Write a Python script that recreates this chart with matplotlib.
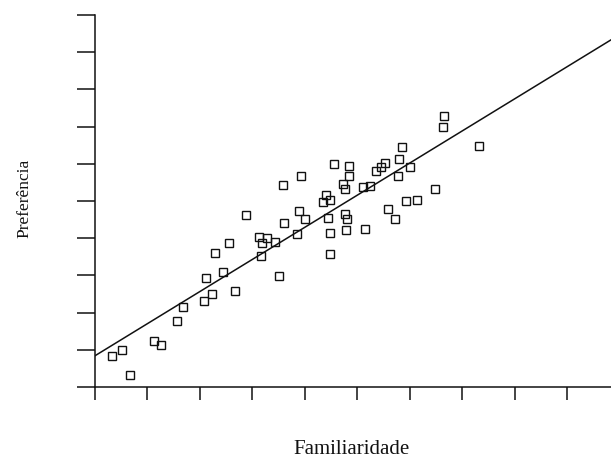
import matplotlib
matplotlib.use("Agg")
import matplotlib.pyplot as plt
import numpy as np

# Data (Familiaridade vs Preferência)
familiaridade = [0.318, 0.521, 0.673, 1.125, 1.253, 1.558, 1.684, 2.079, 2.235, 2.117,
                 2.279, 2.437, 2.561, 2.675, 2.889, 3.127, 3.166, 3.280, 3.179, 3.438,
                 3.514, 3.604, 3.589, 3.846, 3.884, 3.928, 4.008, 4.405, 4.481, 4.354,
                 4.443, 4.481, 4.481, 4.567, 4.838, 4.838, 4.723, 4.771, 4.767, 4.805,
                 4.790, 5.111, 5.248, 5.145, 5.364, 5.448, 5.534, 5.793, 6.011, 5.772,
                 5.578, 5.727, 5.925, 6.140, 6.487, 5.845, 6.661, 6.627, 7.315]
preferencia = [0.841, 0.995, 0.315, 1.228, 1.142, 1.769, 2.151, 2.320, 2.513, 2.922,
               3.610, 3.078, 3.884, 2.581, 4.624, 4.032, 3.527, 4.005, 3.879, 3.911,
               2.992, 4.409, 5.438, 4.108, 4.723, 5.677, 4.503, 5.169, 5.035, 4.965,
               4.556, 4.145, 3.581, 5.987, 5.935, 5.664, 5.470, 5.328, 4.651, 4.516,
               4.220, 5.382, 5.395, 4.247, 5.815, 5.922, 6.030, 6.124, 5.914, 5.680,
               4.785, 4.516, 5.000, 5.027, 5.323, 6.460, 7.280, 6.995, 6.470]

# Regression line as drawn in the reference
line_intercept = 0.84
line_slope = 0.863

x_ticks = list(range(0, 10))
y_ticks = list(range(0, 11))
x_max = 9.84
y_max = 10

plt.rcParams['font.family'] = ['Liberation Serif', 'DejaVu Serif']

fig = plt.figure(figsize=(6.11, 4.59), dpi=100)
ax = fig.add_axes([95/611, (459-387)/459, (611-95)/611, (387-15)/459])

xs = np.array([0, x_max])
ax.plot(xs, line_intercept + line_slope * xs, color='#111111', lw=1.1, zorder=2)
ax.plot(familiaridade, preferencia, linestyle='none', marker='s', markersize=5.2,
        markerfacecolor='none', markeredgecolor='#111111', markeredgewidth=1.0, zorder=3)

ax.set_xlim(0, x_max)
ax.set_ylim(0, y_max)
ax.set_xticks(x_ticks)
ax.set_yticks(y_ticks)
ax.set_xticklabels([])
ax.set_yticklabels([])
ax.tick_params(axis='y', direction='out', length=13, width=1.1, color='#111111')
ax.tick_params(axis='x', direction='out', length=9.4, width=1.1, color='#111111')
for s in ['top', 'right']:
    ax.spines[s].set_visible(False)
for s in ['left', 'bottom']:
    ax.spines[s].set_linewidth(1.1)
    ax.spines[s].set_color('#111111')

fig.text(351/611, (459-454)/459, 'Familiaridade', ha='center', va='baseline',
         fontsize=15, color='#111111')
fig.text(28/611, 1-198/459, 'Preferência', rotation=90, rotation_mode='anchor',
         ha='center', va='baseline', fontsize=12.5, color='#111111')

fig.savefig('out.png', dpi=100)
